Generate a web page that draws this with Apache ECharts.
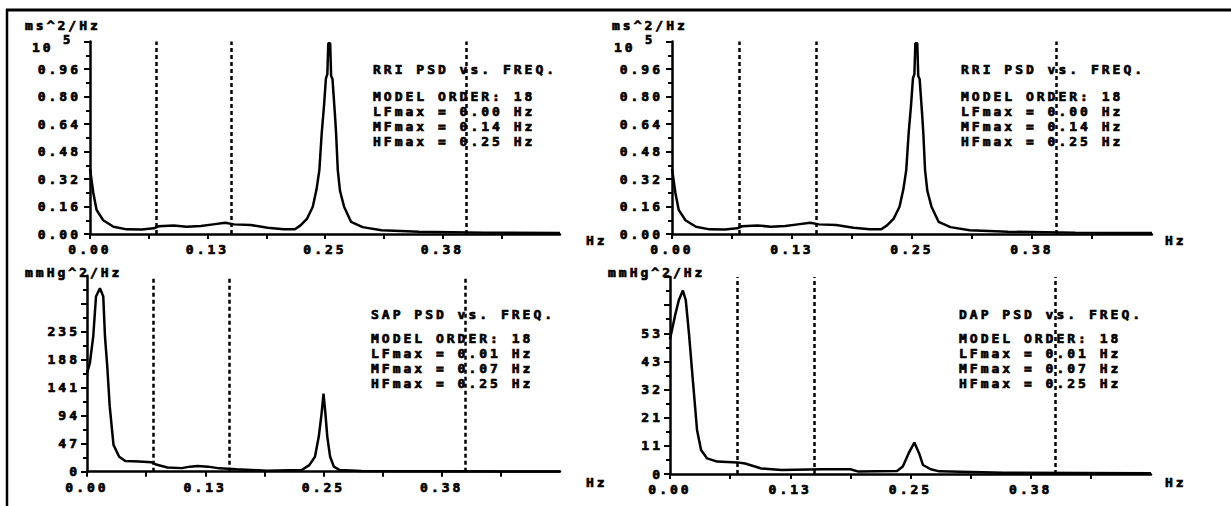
<!DOCTYPE html>
<html>
<head>
<meta charset="utf-8">
<script src="https://cdn.jsdelivr.net/npm/echarts@6/dist/echarts.min.js"></script>
<style>
  html, body { margin: 0; padding: 0; background: #fff; }
  #chart { width: 1231px; height: 506px; }
  #chart text { letter-spacing: 3px; stroke: #000; stroke-width: 0.7px; }
</style>
</head>
<body>
<div id="chart"></div>
<script>
// band limits drawn as dotted verticals (Hz)
const bandLines = [0.071, 0.153, 0.402];

// x axis
const xTickValues = [0, 0.0625, 0.125, 0.1875, 0.25, 0.3125, 0.375, 0.4375];
const xLabelValues = [0, 0.125, 0.25, 0.375];
const xTickLabels = ["0.00", "0.13", "0.25", "0.38"];

// y axis tick labels (index = tick number from 0)
const rriTickLabels = ["0.00", "0.16", "0.32", "0.48", "0.64", "0.80", "0.96"];
const sapTickLabels = ["0", "47", "94", "141", "188", "235"];
const dapTickLabels = ["0", "11", "21", "32", "43", "53"];

// RRI PSD (x10^5 ms^2/Hz)
const rriFreq = [0, 0.0035, 0.007, 0.014, 0.025, 0.039, 0.055, 0.068, 0.073, 0.089, 0.103, 0.118, 0.131, 0.144,
  0.153, 0.171, 0.189, 0.206, 0.218, 0.224, 0.231, 0.237, 0.241, 0.244, 0.2465, 0.249, 0.251, 0.2525, 0.2535,
  0.2555, 0.2565, 0.258, 0.2605, 0.2618, 0.2636, 0.266, 0.2703, 0.2778, 0.29, 0.31, 0.35, 0.42, 0.5];
const rriPsd = [0.38, 0.24, 0.14, 0.08, 0.042, 0.027, 0.026, 0.033, 0.045, 0.05, 0.042, 0.046, 0.056, 0.066,
  0.056, 0.052, 0.037, 0.027, 0.028, 0.05, 0.09, 0.159, 0.26, 0.372, 0.586, 0.75, 0.906, 0.93, 1.11,
  1.11, 0.92, 0.9, 0.7, 0.586, 0.372, 0.25, 0.159, 0.07, 0.04, 0.022, 0.013, 0.008, 0.006];

// SAP PSD (mmHg^2/Hz)
const sapFreq = [0, 0.003, 0.0066, 0.0095, 0.0137, 0.0172, 0.019, 0.0214, 0.024, 0.028, 0.034, 0.0405, 0.055, 0.068,
  0.073, 0.085, 0.1, 0.109, 0.117, 0.128, 0.14, 0.158, 0.19, 0.227, 0.235, 0.241, 0.245, 0.248, 0.25, 0.252,
  0.254, 0.257, 0.261, 0.267, 0.29, 0.5];
const sapPsd = [165, 182, 227, 294, 308, 294, 227, 177, 110, 45, 25, 18, 17, 16,
  12, 7, 6, 8.5, 9.5, 8.5, 5.6, 4, 1.8, 2.8, 11, 25, 59, 98, 131, 98,
  59, 25, 8.4, 2.8, 1.1, 0.3];

// DAP PSD (mmHg^2/Hz)
const dapFreq = [0, 0.005, 0.0092, 0.0134, 0.0164, 0.0197, 0.024, 0.0281, 0.0323, 0.0386, 0.049, 0.07, 0.078,
  0.095, 0.116, 0.158, 0.1875, 0.196, 0.236, 0.242, 0.248, 0.254, 0.259, 0.263, 0.271, 0.28, 0.347, 0.5];
const dapPsd = [51, 59.6, 65.9, 69.5, 65.9, 53.3, 34.4, 16.7, 9.1, 5.9, 4.7, 4.4, 4.0,
  2.1, 1.5, 1.8, 1.8, 0.9, 1.1, 2.8, 7.8, 11.9, 7.8, 3.4, 1.8, 1.0, 0.5, 0.25];

const rriInfo = ["RRI PSD vs. FREQ.", "MODEL ORDER: 18", "LFmax = 0.00 Hz", "MFmax = 0.14 Hz", "HFmax = 0.25 Hz"];
const sapInfo = ["SAP PSD vs. FREQ.", "MODEL ORDER: 18", "LFmax = 0.01 Hz", "MFmax = 0.07 Hz", "HFmax = 0.25 Hz"];
const dapInfo = ["DAP PSD vs. FREQ.", "MODEL ORDER: 18", "LFmax = 0.01 Hz", "MFmax = 0.07 Hz", "HFmax = 0.25 Hz"];

const FONT = 'bold 13px "DejaVu Sans Mono"';
const FONT_SMALL = 'bold 12px "DejaVu Sans Mono"';

const panels = [
  {
    grid: { left: 90, top: 41.5, width: 470, height: 192.5 },
    freq: rriFreq, psd: rriPsd, interval: 0.16, labels: rriTickLabels, labelMargin: 9,
    unit: "ms^2/Hz", unitPos: [25, 25], exp: [32, 63],
    info: rriInfo, infoX: 373, infoY: [69, 96, 111, 126, 141], hzPos: [586, 240],
  },
  {
    grid: { left: 672, top: 41.5, width: 480, height: 192.5 },
    freq: rriFreq, psd: rriPsd, interval: 0.16, labels: rriTickLabels, labelMargin: 9,
    unit: "ms^2/Hz", unitPos: [612, 25], exp: [614, 645],
    info: rriInfo, infoX: 961, infoY: [69, 96, 111, 126, 141], hzPos: [1165, 240],
  },
  {
    grid: { left: 87, top: 275.7, width: 473, height: 196 },
    freq: sapFreq, psd: sapPsd, interval: 47, labels: sapTickLabels, labelMargin: 7,
    unit: "mmHg^2/Hz", unitPos: [25, 272], exp: null,
    info: sapInfo, infoX: 371, infoY: [314, 338, 353, 368, 383], hzPos: [586, 482],
  },
  {
    grid: { left: 670, top: 277, width: 481, height: 197 },
    freq: dapFreq, psd: dapPsd, interval: 10.66, labels: dapTickLabels, labelMargin: 7,
    unit: "mmHg^2/Hz", unitPos: [608, 272], exp: null,
    info: dapInfo, infoX: 959, infoY: [314, 338, 353, 368, 383], hzPos: [1165, 482],
  },
];

function textEl(text, x, y, font) {
  return {
    type: "text",
    x, y,
    silent: true,
    style: { text, font: font || FONT, fill: "#000", textAlign: "left", textVerticalAlign: "middle" },
  };
}

const black = { color: "#000", width: 2.5 };
const graphics = [
  { type: "line", silent: true, shape: { x1: 6, y1: 10, x2: 1231, y2: 10 }, style: { stroke: "#000", lineWidth: 3 } },
  { type: "line", silent: true, shape: { x1: 7, y1: 9, x2: 7, y2: 506 }, style: { stroke: "#000", lineWidth: 2.5 } },
];

panels.forEach((p) => {
  graphics.push(textEl(p.unit, p.unitPos[0], p.unitPos[1]));
  graphics.push(textEl("Hz", p.hzPos[0], p.hzPos[1]));
  p.info.forEach((line, k) => graphics.push(textEl(line, p.infoX, p.infoY[k])));
  if (p.exp) {
    graphics.push(textEl("10", p.exp[0], 47));
    graphics.push(textEl("5", p.exp[1], 40, FONT_SMALL));
  }
});

const option = {
  animation: false,
  backgroundColor: "#fff",
  grid: panels.map((p) => ({ ...p.grid, containLabel: false })),
  xAxis: panels.map((p, i) => ({
    type: "value",
    gridIndex: i,
    min: 0,
    max: 0.5,
    interval: 0.0625,
    axisLine: { show: true, onZero: false, lineStyle: black },
    axisTick: { show: true, customValues: xTickValues, length: 5, lineStyle: { color: "#000", width: 2 } },
    axisLabel: {
      customValues: xLabelValues,
      margin: 9,
      color: "#000",
      fontFamily: "DejaVu Sans Mono",
      fontWeight: "bold",
      fontSize: 13,
      formatter: (v) => {
        const k = xLabelValues.findIndex((t) => Math.abs(t - v) < 1e-6);
        return k >= 0 ? xTickLabels[k] : "";
      },
    },
    splitLine: { show: false },
  })),
  yAxis: panels.map((p, i) => ({
    type: "value",
    gridIndex: i,
    min: 0,
    max: p.interval * 7,
    interval: p.interval,
    axisLine: { show: true, onZero: false, lineStyle: black },
    axisTick: { show: true, length: 6, lineStyle: { color: "#000", width: 2 } },
    minorTick: { show: true, splitNumber: 2, length: 4, lineStyle: { color: "#000", width: 2 } },
    axisLabel: {
      margin: p.labelMargin,
      color: "#000",
      fontFamily: "DejaVu Sans Mono",
      fontWeight: "bold",
      fontSize: 13,
      formatter: (v) => {
        const k = Math.round(v / p.interval);
        return p.labels[k] !== undefined ? p.labels[k] : "";
      },
    },
    splitLine: { show: false },
    minorSplitLine: { show: false },
  })),
  series: panels.map((p, i) => ({
    type: "line",
    xAxisIndex: i,
    yAxisIndex: i,
    data: p.freq.map((f, k) => [f, p.psd[k]]),
    symbol: "none",
    showSymbol: false,
    lineStyle: { color: "#000", width: 2.5 },
    itemStyle: { color: "#000" },
    emphasis: { disabled: true },
    markLine: {
      silent: true,
      symbol: "none",
      label: { show: false },
      emphasis: { disabled: true },
      lineStyle: { color: "#000", type: [4, 3], width: 2.5 },
      data: bandLines.map((v) => ({ xAxis: v })),
    },
  })),
  graphic: graphics,
};

const chart = echarts.init(document.getElementById("chart"), null, { renderer: "svg" });
chart.setOption(option);
</script>
</body>
</html>
